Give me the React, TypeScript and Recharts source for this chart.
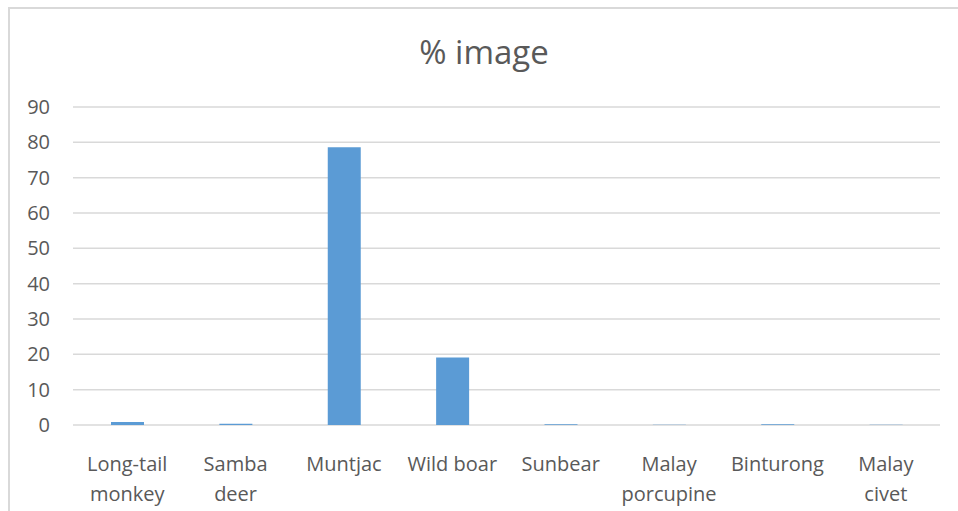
import { BarChart, Bar, XAxis, YAxis, CartesianGrid } from "recharts";

const species = [
  "Long-tail\nmonkey",
  "Samba\ndeer",
  "Muntjac",
  "Wild boar",
  "Sunbear",
  "Malay\nporcupine",
  "Binturong",
  "Malay\ncivet",
];
const percentImage = [0.85, 0.35, 78.6, 19.1, 0.2, 0.05, 0.2, 0.1];
const yTicks = [0, 10, 20, 30, 40, 50, 60, 70, 80, 90];

const data = species.map((name, i) => ({ name, value: percentImage[i] }));

const FONT = "'Open Sans', sans-serif";
const TEXT = "#595959";

function CategoryTick({ x, y, payload }: any) {
  const lines = String(payload.value).split("\n");
  return (
    <text x={x} y={y + 38} textAnchor="middle" fill={TEXT} fontSize={20} fontFamily={FONT}>
      {lines.map((l, i) => (
        <tspan key={i} x={x} dy={i === 0 ? 0 : 30}>
          {l}
        </tspan>
      ))}
    </text>
  );
}

export default function App() {
  return (
    <div style={{ position: "absolute", left: 0, top: 0, width: 958, height: 511, background: "#fff", overflow: "hidden" }}>
      <div
        style={{
          position: "absolute",
          left: 8,
          top: 7,
          width: 1000,
          height: 600,
          border: "2px solid #d9d9d9",
        }}
      />
      <div
        style={{
          position: "absolute",
          left: 0,
          width: 968,
          top: 32,
          textAlign: "center",
          fontFamily: FONT,
          fontSize: 33,
          color: TEXT,
          lineHeight: "40px",
        }}
      >
        % image
      </div>
      <div style={{ position: "absolute", left: 0, top: 0 }}>
        <BarChart width={958} height={511} data={data} margin={{ top: 107, right: 18, left: 0, bottom: 0 }}>
          <CartesianGrid horizontal vertical={false} stroke="#d9d9d9" strokeWidth={1.5} />
          <XAxis
            dataKey="name"
            height={86}
            axisLine={false}
            tickLine={false}
            interval={0}
            tick={<CategoryTick />}
          />
          <YAxis
            width={73}
            domain={[0, 90]}
            ticks={yTicks}
            axisLine={false}
            tickLine={false}
            tickSize={0}
            tickMargin={23}
            tick={{ fill: TEXT, fontSize: 20, fontFamily: FONT }}
          />
          <Bar dataKey="value" fill="#5b9bd5" barSize={33} isAnimationActive={false} />
        </BarChart>
      </div>
    </div>
  );
}
